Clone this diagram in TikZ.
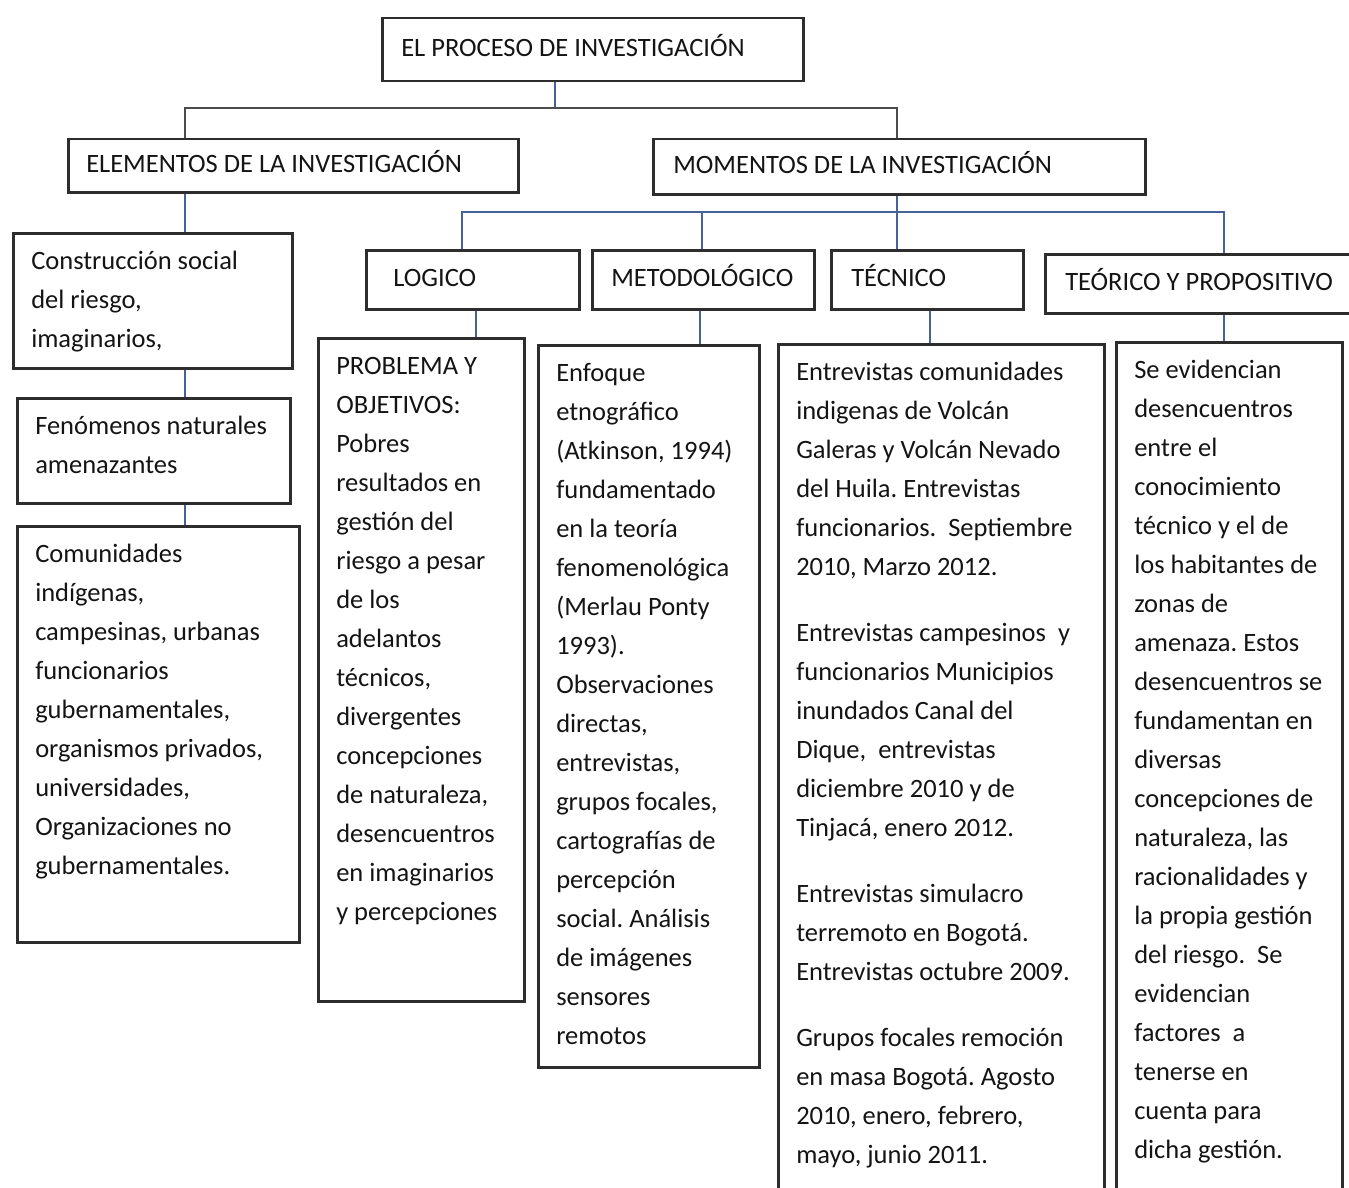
\documentclass[tikz,border=0pt]{standalone}
\usepackage{fontspec}
\setmainfont{Carlito}
\frenchspacing
\definecolor{borde}{RGB}{45,45,45}
\definecolor{conector}{RGB}{70,98,150}
\newcommand{\rotulo}[3]{\makebox[#1pt][l]{\hspace*{#2pt}#3}}
\newcommand{\bloque}[3]{\parbox[t][#2pt][t]{\dimexpr#1pt-36pt\relax}{\raggedright\rule{0pt}{36pt}#3}}

\begin{document}
\begin{tikzpicture}[x=1pt,y=-1pt,
  caja/.style={draw=borde, line width=2.5pt, anchor=north west, inner xsep=18pt, inner ysep=0pt,
    text=black!92, font=\fontsize{26.5}{39}\selectfont},
  titulo/.style={caja, inner xsep=0pt, minimum height=#1, text height=19pt, text depth=6pt},
  enlace/.style={draw=conector, line width=2pt}]
  \path[use as bounding box] (0,0) rectangle (1349,1188);
  \clip (0,0) rectangle (1349,1188);

  % cabeceras
  \node[titulo=63pt] (proceso) at (381,17) {\rotulo{421}{19}{EL PROCESO DE INVESTIGACIÓN}};
  \node[titulo=53pt] (elementos) at (67,138) {\rotulo{450}{18}{ELEMENTOS DE LA INVESTIGACIÓN}};
  \node[titulo=55pt] (momentos) at (652,138) {\rotulo{492}{20}{MOMENTOS DE LA INVESTIGACIÓN}};
  \node[titulo=59pt] (logico) at (365,249) {\rotulo{213}{27}{LOGICO}};
  \node[titulo=59pt] (metodologico) at (591,249) {\rotulo{222}{19}{METODOLÓGICO}};
  \node[titulo=59pt] (tecnico) at (830,249) {\rotulo{192}{20}{TÉCNICO}};
  \node[titulo=59pt] (teorico) at (1044,253) {\rotulo{320}{20}{TEÓRICO Y PROPOSITIVO}};

  % columna de elementos
  \node[caja] (construccion) at (12,232) {\bloque{279}{135}{Construcción social\\del riesgo,\\imaginarios,}};
  \node[caja] (fenomenos) at (16,397) {\bloque{273}{105}{Fenómenos naturales\\amenazantes}};
  \node[caja] (comunidades) at (16,525) {\bloque{282}{416}{Comunidades\\indígenas,\\campesinas, urbanas\\funcionarios\\gubernamentales,\\organismos privados,\\universidades,\\Organizaciones no\\gubernamentales.}};

  % columnas de momentos
  \node[caja] (problema) at (317,337) {\bloque{206}{663}{PROBLEMA Y\\OBJETIVOS:\\Pobres\\resultados en\\gestión del\\riesgo a pesar\\de los\\adelantos\\técnicos,\\divergentes\\concepciones\\de naturaleza,\\desencuentros\\en imaginarios\\y percepciones}};
  \node[caja] (enfoque) at (537,344) {\bloque{221}{722}{Enfoque\\etnográfico\\(Atkinson, 1994)\\fundamentado\\en la teoría\\fenomenológica\\(Merlau Ponty\\1993).\\Observaciones\\directas,\\entrevistas,\\grupos focales,\\cartografías de\\percepción\\social. Análisis\\de imágenes\\sensores\\remotos}};
  \node[caja] (entrevistas) at (777,343) {\bloque{326}{870}{Entrevistas comunidades\\indigenas de Volcán\\Galeras y Volcán Nevado\\del Huila. Entrevistas\\funcionarios.\ \ Septiembre\\2010, Marzo 2012.\\[27pt]Entrevistas campesinos\ \ y\\funcionarios Municipios\\inundados Canal del\\Dique,\ \ entrevistas\\diciembre 2010 y de\\Tinjacá, enero 2012.\\[27pt]Entrevistas simulacro\\terremoto en Bogotá.\\Entrevistas octubre 2009.\\[27pt]Grupos focales remoción\\en masa Bogotá. Agosto\\2010, enero, febrero,\\mayo, junio 2011.}};
  \node[caja] (evidencias) at (1115,341) {\bloque{226}{870}{Se evidencian\\desencuentros\\entre el\\conocimiento\\técnico y el de\\los habitantes de\\zonas de\\amenaza. Estos\\desencuentros se\\fundamentan en\\diversas\\concepciones de\\naturaleza, las\\racionalidades y\\la propia gestión\\del riesgo.\ \ Se\\evidencian\\factores\ \ a\\tenerse en\\cuenta para\\dicha gestión.}};

  % conectores
  \coordinate (b0) at (555,108);
  \coordinate (b1) at (185,108);
  \coordinate (b2) at (897,108);
  \draw[enlace] (proceso.south -| b0) -- (b0);
  \draw[enlace, draw=borde!85] (elementos.north -| b1) |- (b2) -- (momentos.north -| b2);
  \draw[enlace] (elementos.south -| b1) -- (construccion.north -| b1);
  \draw[enlace] (construccion.south -| b1) -- (fenomenos.north -| b1);
  \draw[enlace] (fenomenos.south -| b1) -- (comunidades.north -| b1);

  \coordinate (m0) at (897,212);
  \coordinate (m1) at (462,212);
  \coordinate (m2) at (702,212);
  \coordinate (m3) at (1224,212);
  \draw[enlace] (momentos.south -| m0) -- (tecnico.north -| m0);
  \draw[enlace] (logico.north -| m1) |- (m3) -- (teorico.north -| m3);
  \draw[enlace] (m2) -- (metodologico.north -| m2);

  \coordinate (c1) at (476,0);
  \coordinate (c2) at (700,0);
  \coordinate (c3) at (930,0);
  \coordinate (c4) at (1224,0);
  \foreach \a/\b/\c in {logico/problema/c1, metodologico/enfoque/c2, tecnico/entrevistas/c3, teorico/evidencias/c4}
    \draw[enlace] (\a.south -| \c) -- (\b.north -| \c);
\end{tikzpicture}
\end{document}
